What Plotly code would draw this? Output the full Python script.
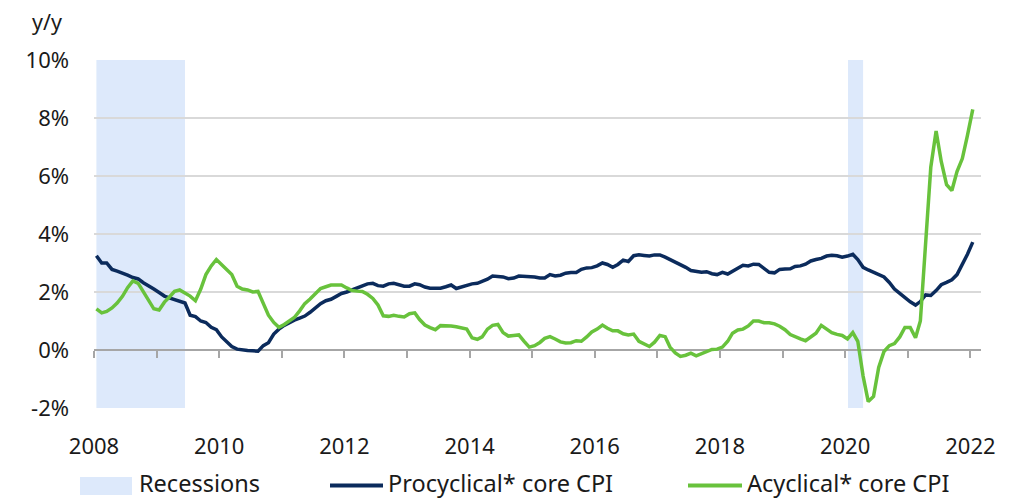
import pandas as pd
import plotly.graph_objects as go

# monthly y/y core CPI, Jan 2008 .. Jan 2022
start_month = "2008-01-01"

procyclical = [
    3.25, 3.0, 3.0, 2.78, 2.72, 2.66, 2.58, 2.5, 2.45, 2.32, 2.22, 2.1,
    1.98, 1.86, 1.8, 1.74, 1.68, 1.62, 1.2, 1.15, 1.0, 0.95, 0.78, 0.7,
    0.45, 0.28, 0.12, 0.03, 0.0, -0.02, -0.03, -0.04, 0.15, 0.25, 0.55, 0.72,
    0.85, 0.95, 1.03, 1.1, 1.17, 1.3, 1.45, 1.6, 1.7, 1.75, 1.85, 1.95,
    2.0, 2.08, 2.15, 2.22, 2.28, 2.3, 2.22, 2.2, 2.28, 2.3, 2.24, 2.2,
    2.2, 2.28, 2.25, 2.17, 2.13, 2.13, 2.13, 2.18, 2.24, 2.12, 2.18, 2.24,
    2.28, 2.3, 2.36, 2.44, 2.55, 2.55, 2.52, 2.46, 2.48, 2.55, 2.55, 2.52,
    2.52, 2.48, 2.48, 2.6, 2.55, 2.58, 2.65, 2.67, 2.67, 2.78, 2.83, 2.84,
    2.9, 3.0, 2.95, 2.85, 2.95, 3.1, 3.05, 3.25, 3.28, 3.26, 3.24, 3.28,
    3.28, 3.2, 3.12, 3.05, 2.95, 2.85, 2.74, 2.7, 2.68, 2.7, 2.63, 2.6,
    2.68, 2.62, 2.72, 2.82, 2.92, 2.9, 2.96, 2.95, 2.8, 2.68, 2.66, 2.78,
    2.79, 2.8, 2.88, 2.9, 2.96, 3.07, 3.12, 3.16, 3.24, 3.27, 3.25, 3.2,
    3.24, 3.3, 3.12, 2.85, 2.76, 2.68, 2.6, 2.52, 2.33, 2.1, 1.95, 1.8,
    1.66, 1.55, 1.67, 1.9, 1.88, 2.05, 2.25, 2.33, 2.42, 2.6, 2.93, 3.3,
    3.72,
]

acyclical = [
    1.42, 1.28, 1.33, 1.45, 1.62, 1.85, 2.15, 2.38, 2.3, 2.0, 1.68, 1.42,
    1.38, 1.65, 1.82, 2.02, 2.07, 1.98, 1.86, 1.7, 2.1, 2.6, 2.9, 3.12,
    2.95, 2.78, 2.6, 2.2, 2.1, 2.07, 2.0, 2.02, 1.6, 1.2, 0.95, 0.78,
    0.88, 1.0, 1.12, 1.35, 1.6, 1.76, 1.92, 2.12, 2.18, 2.24, 2.24, 2.24,
    2.14, 2.05, 2.03, 2.02, 1.92, 1.78, 1.55, 1.18, 1.16, 1.2, 1.16, 1.14,
    1.25, 1.28, 1.05, 0.86, 0.77, 0.7, 0.84, 0.85, 0.83, 0.8, 0.77, 0.72,
    0.42, 0.37, 0.45, 0.72, 0.85, 0.88, 0.6, 0.48, 0.5, 0.52, 0.3, 0.1,
    0.15, 0.26, 0.4, 0.46, 0.38, 0.28, 0.24, 0.25, 0.32, 0.3, 0.45, 0.62,
    0.72, 0.86, 0.75, 0.66, 0.66, 0.56, 0.52, 0.55, 0.3, 0.22, 0.12, 0.27,
    0.5, 0.46, 0.1, -0.1, -0.22, -0.18, -0.11, -0.2, -0.12, -0.04, 0.02, 0.03,
    0.1, 0.3, 0.58, 0.69, 0.72, 0.83, 1.0, 1.0, 0.94, 0.94, 0.9, 0.82,
    0.7, 0.53, 0.45, 0.38, 0.32, 0.45, 0.58, 0.85, 0.72, 0.6, 0.54, 0.5,
    0.38, 0.6, 0.3, -0.9, -1.78, -1.6, -0.6, -0.05, 0.15, 0.22, 0.45, 0.78,
    0.78, 0.42, 1.0, 3.8, 6.3, 7.55, 6.5, 5.7, 5.5, 6.15, 6.6, 7.4,
    8.3,
]

# recession bands (monthly points sit mid-month)
rec_start = ["2008-01-15", "2020-01-18"]
rec_end = ["2009-06-15", "2020-04-15"]

y_ticks = [-2, 0, 2, 4, 6, 8, 10]
y_labels = ["-2%", "0%", "2%", "4%", "6%", "8%", "10%"]

NAVY = "#0b2b5c"
GREEN = "#68c23c"
REC = "#dde9fb"
FONT = "Noto Sans"

dates = pd.date_range(start_month, periods=len(procyclical), freq="MS") + pd.Timedelta(days=14)
x_range = ["2008-01-01", "2022-03-04"]

# page body adds an 8px margin, so size the figure to fit the window
OFF = 8
W, H = 1015 - OFF, 499 - OFF
# plot area in window pixels
L, R, T, B = 94, 981, 60, 408

fig = go.Figure()
fig.add_trace(go.Scatter(x=dates, y=procyclical, mode="lines", name="Procyclical* core CPI",
                         line=dict(color=NAVY, width=3.5), showlegend=False))
fig.add_trace(go.Scatter(x=dates, y=acyclical, mode="lines", name="Acyclical* core CPI",
                         line=dict(color=GREEN, width=3.5), showlegend=False))
# empty trace so the zero-line axis gets drawn
fig.add_trace(go.Scatter(x=dates[:1], y=[None], xaxis="x2", showlegend=False, hoverinfo="skip"))

for a, b in zip(rec_start, rec_end):
    fig.add_vrect(x0=a, x1=b, fillcolor=REC, line_width=0, layer="below")

# hand-made legend under the plot (window pixel -> paper)
def px(x):
    return (x - L) / (R - L)
def py(y):
    return (B - y) / (B - T)

leg_y = 485.5
txt_y = 483.5
fig.add_shape(type="rect", xref="paper", yref="paper", x0=px(80), x1=px(132),
              y0=py(495), y1=py(477), fillcolor=REC, line_width=0)
fig.add_shape(type="line", xref="paper", yref="paper", x0=px(330), x1=px(383),
              y0=py(leg_y), y1=py(leg_y), line=dict(color=NAVY, width=4))
fig.add_shape(type="line", xref="paper", yref="paper", x0=px(688), x1=px(742),
              y0=py(leg_y), y1=py(leg_y), line=dict(color=GREEN, width=4))
for x, txt in [(137, "Recessions"), (386, "Procyclical* core CPI"), (745, "Acyclical* core CPI")]:
    fig.add_annotation(x=px(x), y=py(txt_y), xref="paper", yref="paper", text=txt,
                       showarrow=False, xanchor="left", yanchor="middle",
                       font=dict(family=FONT, size=23.5, color="#1a1a1a"))

fig.add_annotation(x=px(47), y=py(22), xref="paper", yref="paper", text="y/y",
                   showarrow=False, xanchor="center", yanchor="middle",
                   font=dict(family=FONT, size=21.5, color="#1a1a1a"))

fig.update_layout(
    width=W, height=H,
    margin=dict(l=L - OFF, r=1015 - R, t=T - OFF, b=499 - B),
    plot_bgcolor="white", paper_bgcolor="white",
    font=dict(family=FONT, size=22, color="#1a1a1a"),
    xaxis=dict(type="date", range=x_range, dtick="M24", tick0="2008-01-01",
               tickformat="%Y", showgrid=False, showline=False, ticks="",
               zeroline=False, ticklabelstandoff=23),
    xaxis2=dict(type="date", range=x_range, overlaying="x", anchor="free", position=1 / 6,
                showline=True, linecolor="#a6a6a6", linewidth=2,
                ticks="outside", ticklen=7, tickwidth=2, tickcolor="#a6a6a6",
                dtick="M12", tick0="2008-01-01", showticklabels=False, showgrid=False,
                layer="below traces"),
    yaxis=dict(range=[-2, 10], tickvals=y_ticks, ticktext=y_labels,
               showgrid=True, gridcolor="#d9d9d9", gridwidth=2, zeroline=False,
               ticks="", ticklabelstandoff=24),
)

fig.write_html("out.html")
